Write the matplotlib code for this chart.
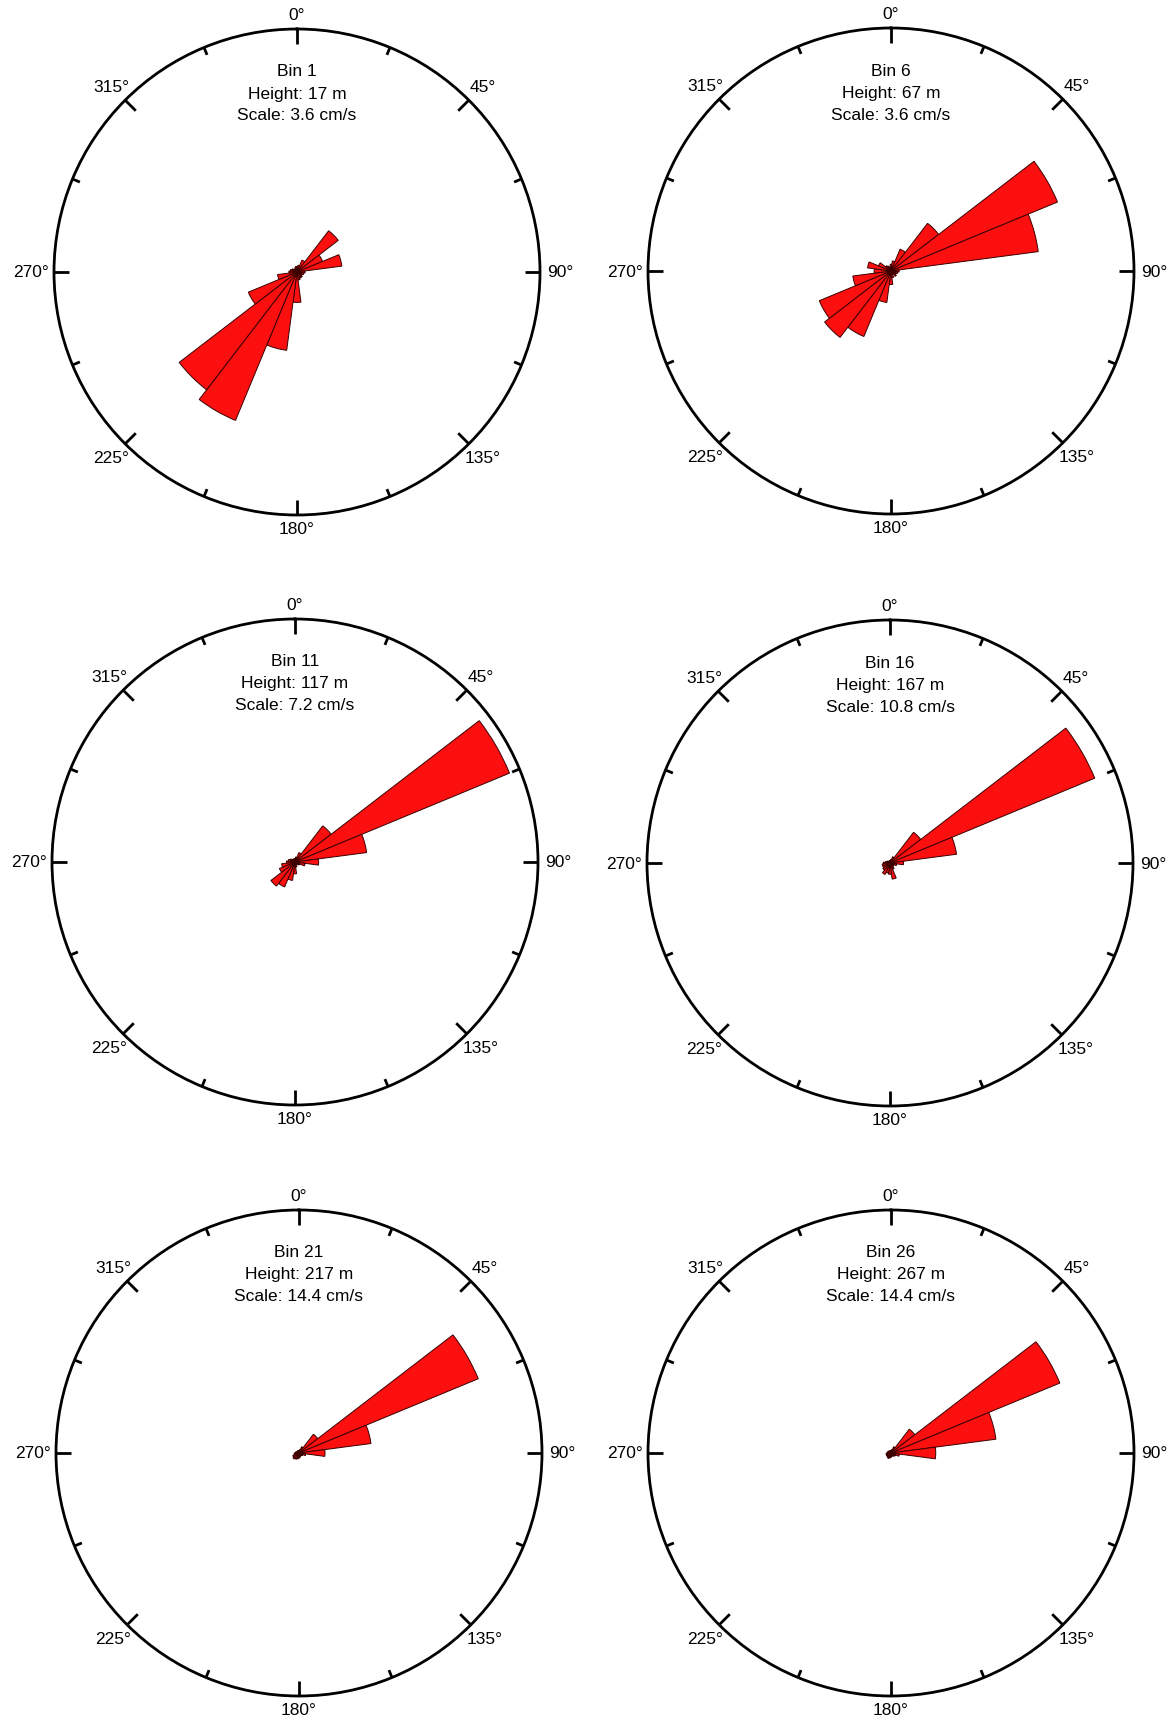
import numpy as np
import matplotlib
matplotlib.use('Agg')
import matplotlib.pyplot as plt

plt.rcParams['font.family'] = ['Liberation Sans', 'DejaVu Sans']

# direction bins (deg, compass), 15 deg wide
directions = np.arange(0, 360, 15)

bin_names = ["Bin 1", "Bin 6", "Bin 11", "Bin 16", "Bin 21", "Bin 26"]
heights = ["17 m", "67 m", "117 m", "167 m", "217 m", "267 m"]
scales = [3.6, 3.6, 7.2, 10.8, 14.4, 14.4]

# mean speed per direction bin (cm/s)
bin1 = [0.08, 0.10, 0.19, 0.77, 0.41, 0.67, 0.12, 0.10, 0.08, 0.10, 0.10, 0.12,
        0.45, 1.17, 2.38, 2.20, 0.78, 0.29, 0.12, 0.10, 0.08, 0.06, 0.05, 0.08]
bin6 = [0.10, 0.15, 0.35, 0.89, 2.67, 2.20, 0.12, 0.10, 0.08, 0.10, 0.05, 0.10,
        0.20, 0.47, 1.05, 1.24, 1.15, 0.57, 0.25, 0.35, 0.20, 0.10, 0.08, 0.05]
bin11 = [0.10, 0.15, 0.30, 1.35, 6.88, 2.14, 0.70, 0.30, 0.15, 0.10, 0.10, 0.15,
         0.35, 0.55, 0.80, 0.90, 0.50, 0.40, 0.25, 0.20, 0.15, 0.10, 0.10, 0.10]
bin16 = [0.10, 0.15, 0.30, 1.72, 9.85, 2.98, 0.60, 0.30, 0.20, 0.20, 0.30, 0.72,
         0.50, 0.45, 0.55, 0.40, 0.35, 0.35, 0.30, 0.20, 0.15, 0.10, 0.10, 0.10]
bin21 = [0.15, 0.20, 0.40, 1.40, 11.5, 4.30, 1.54, 0.40, 0.25, 0.20, 0.20, 0.25,
         0.30, 0.35, 0.40, 0.45, 0.40, 0.30, 0.25, 0.20, 0.15, 0.15, 0.15, 0.15]
bin26 = [0.15, 0.20, 0.40, 1.78, 10.83, 6.27, 2.65, 0.50, 0.30, 0.25, 0.20, 0.20,
         0.25, 0.30, 0.35, 0.30, 0.30, 0.30, 0.25, 0.20, 0.20, 0.15, 0.15, 0.15]
speeds = [bin1, bin6, bin11, bin16, bin21, bin26]

tick_labels = ["0°", "45°", "90°", "135°", "180°", "225°", "270°", "315°"]
label_r = [1.06, 1.08, 1.085, 1.08, 1.055, 1.08, 1.095, 1.08]

W, H = 1174, 1724
R = 243
centers = [(297, 273), (891, 272), (295, 863), (890, 864), (299, 1454), (891, 1454)]

fig = plt.figure(figsize=(W / 100, H / 100), dpi=100)

for i in range(6):
    cx, cy = centers[i]
    ax = fig.add_axes([(cx - R) / W, 1 - (cy + R) / H, 2 * R / W, 2 * R / H], projection='polar')
    ax.set_theta_zero_location('N')
    ax.set_theta_direction(-1)
    smax = scales[i]

    ax.bar(np.deg2rad(directions), speeds[i], width=np.deg2rad(15), bottom=0,
           color='#fb0f0f', edgecolor='#3a0000', linewidth=0.7, zorder=3)

    ax.set_ylim(0, smax)
    ax.set_yticks([])
    ax.set_xticks([])
    ax.grid(False)
    ax.spines['polar'].set_linewidth(2.0)

    # inward ticks: long every 45 deg, short in between
    for a in np.arange(0, 360, 22.5):
        ln = 15 if a % 45 == 0 else 8
        ax.plot([np.deg2rad(a)] * 2, [smax * (1 - ln / R), smax], color='k',
                lw=2.0, solid_capstyle='butt', clip_on=False, zorder=4)

    for k, lab in enumerate(tick_labels):
        ax.text(np.deg2rad(45 * k), smax * label_r[k], lab, ha='center', va='center',
                fontsize=12.5, clip_on=False)

    ax.text(0.5, 0.5 + 201 / (2 * R), bin_names[i], transform=ax.transAxes,
            ha='center', va='center', fontsize=12.5)
    ax.text(0.5, 0.5 + 179 / (2 * R), "Height: " + heights[i], transform=ax.transAxes,
            ha='center', va='center', fontsize=12.5)
    ax.text(0.5, 0.5 + 157 / (2 * R), "Scale: %s cm/s" % scales[i], transform=ax.transAxes,
            ha='center', va='center', fontsize=12.5)

fig.savefig('out.png', dpi=100, facecolor='white')
